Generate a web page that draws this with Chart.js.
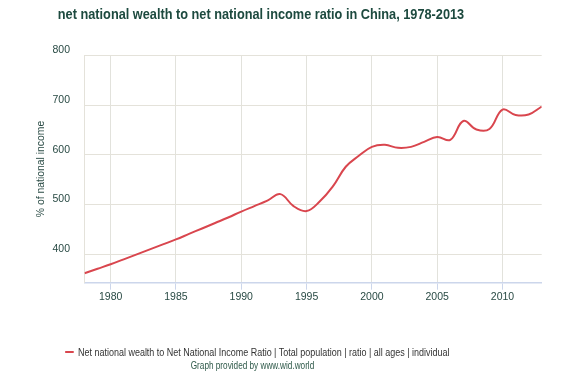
<!DOCTYPE html>
<html><head><meta charset="utf-8">
<script src="https://cdn.jsdelivr.net/npm/chart.js@4/dist/chart.umd.min.js"></script>
<style>
html,body{margin:0;padding:0;background:#fff;}
#wrap{position:relative;width:580px;height:377px;overflow:hidden;background:#fff;}
#c{position:absolute;left:0;top:0;}
#title{position:absolute;left:0;width:522px;top:5px;text-align:center;font:bold 15.5px "Liberation Sans",Arial,sans-serif;color:#1d4a3f;white-space:nowrap;transform:scaleX(0.822);transform-origin:261px 50%;}
#legend{position:absolute;left:63px;top:344px;font:10.5px "Liberation Sans",Arial,sans-serif;color:#333;white-space:nowrap;line-height:16px;transform:scaleX(0.855);transform-origin:15px 50%;}
#legend .sw{display:inline-block;width:10px;height:2px;background:#d9464e;vertical-align:middle;margin-right:5px;position:relative;top:-1px;}
#credits{position:absolute;left:0;width:505px;top:360px;text-align:center;font:10px "Liberation Sans",Arial,sans-serif;color:#2f5a4a;white-space:nowrap;transform:scaleX(0.82);transform-origin:252.5px 50%;}
</style></head>
<body>
<div id="wrap">
<canvas id="c" width="580" height="377"></canvas>
<div id="title">net national wealth to net national income ratio in China, 1978-2013</div>
<div id="legend"><span class="sw"></span>Net national wealth to Net National Income Ratio | Total population | ratio | all ages | individual</div>
<div id="credits">Graph provided by www.wid.world</div>
</div>
<script>
const years = [1978,1979,1980,1981,1982,1983,1984,1985,1986,1987,1988,1989,1990,1991,1992,1993,1994,1995,1996,1997,1998,1999,2000,2001,2002,2003,2004,2005,2006,2007,2008,2009,2010,2011,2012,2013];
const ratio = [362,371,380,390,400,410,420,430,441,452,463,474,486,497,508,521,497,487,506,536,576,598,616,620,614,616,626,636,630,668,651,652,691,680,681,697];
const xTicks = [1980,1985,1990,1995,2000,2005,2010];
const yTicks = [400,500,600,700,800];
const seriesName = "Net national wealth to Net National Income Ratio | Total population | ratio | all ages | individual";
const yTitle = "% of national income";

const points = years.map((y,i)=>({x:y,y:ratio[i]}));
const tickFont = {family:"'Liberation Sans', Arial, sans-serif", size:10.5};
const tickColor = '#2a4b45';

new Chart(document.getElementById('c'), {
  type:'line',
  data:{datasets:[{label:seriesName,data:points,borderColor:'#d9464e',borderWidth:2,pointRadius:0,tension:0.4,fill:false}]},
  options:{
    responsive:false,animation:false,
    layout:{padding:{left:0,top:55.3,right:38.3,bottom:64.3}},
    plugins:{legend:{display:false},title:{display:false},tooltip:{enabled:false}},
    scales:{
      x:{type:'linear',min:1978,max:2013,
        afterBuildTicks:s=>{s.ticks=xTicks.map(v=>({value:v}));},
        afterFit:s=>{s.height=30;},
        grid:{color:'#e2e2dc',tickColor:'#ccd6eb',tickLength:7,lineWidth:1},
        border:{color:'#ccd6eb',width:1.5},
        ticks:{font:tickFont,color:tickColor,padding:1,maxRotation:0,autoSkip:false,callback:v=>String(v)}
      },
      y:{type:'linear',min:343,max:800,
        afterBuildTicks:s=>{s.ticks=yTicks.map(v=>({value:v}));},
        afterFit:s=>{s.width=84.5;},
        grid:{color:'#e4e2da',drawTicks:false,lineWidth:1},
        border:{color:'#e4e2da'},
        ticks:{font:tickFont,color:tickColor,padding:14.5,labelOffset:-5,callback:v=>String(v)},
        title:{display:true,text:yTitle,color:tickColor,font:{family:"'Liberation Sans', Arial, sans-serif",size:10.4},padding:{top:35,bottom:0}}
      }
    }
  }
});
</script>
</body></html>
